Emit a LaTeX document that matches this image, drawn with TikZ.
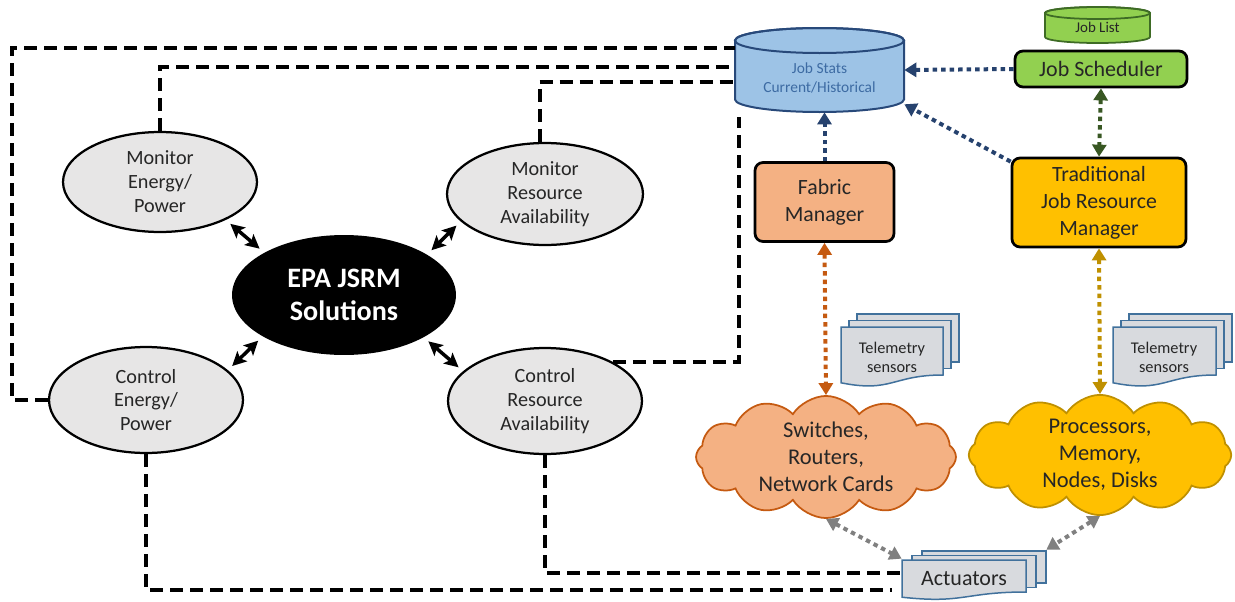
\documentclass[tikz,border=0pt]{standalone}
\usepackage{fontspec}
\setmainfont{Carlito}
\usetikzlibrary{arrows.meta,shapes.geometric,shapes.symbols}

\definecolor{ovalgray}{HTML}{E7E6E6}
\definecolor{statsblue}{HTML}{9DC3E6}
\definecolor{statsedge}{HTML}{28497A}
\definecolor{statstext}{HTML}{3D6BA3}
\definecolor{schedgreen}{HTML}{92D050}
\definecolor{listedge}{HTML}{3E6B25}
\definecolor{fabricorange}{HTML}{F4B183}
\definecolor{tradgold}{HTML}{FFC000}
\definecolor{rustline}{HTML}{C55A11}
\definecolor{ochreline}{HTML}{BF9000}
\definecolor{navyline}{HTML}{26426E}
\definecolor{forestline}{HTML}{385723}
\definecolor{sheetgray}{HTML}{D8DADE}
\definecolor{sheetedge}{HTML}{41719C}
\definecolor{arrowgray}{HTML}{808080}

% stacked paper sheets, front one with a wavy bottom edge
% #1,#2 top left of the front sheet, #3 width, #4 height, #5,#6 offset of the sheets behind
\newcommand\sheetstack[6]{%
  \filldraw[sheet] (#1+2*#5,#2-2*#6) rectangle ++(#3,0.8*#4);
  \filldraw[sheet] (#1+#5,#2-#6) rectangle ++(#3,0.8*#4);
  \filldraw[sheet] (#1,#2) -- ++(#3,0) -- ++(0,0.8*#4)
    .. controls (#1+0.5*#3,#2+0.8*#4) and (#1+0.5*#3,#2+1.1*#4) .. (#1,#2+0.93*#4) -- cycle;
}

\tikzset{
  tri/.tip={Triangle[length=2.4mm,width=2.8mm]},
  lnk/.tip={Stealth[length=2.8mm,width=2.8mm,inset=0.6mm]},
}

\begin{document}
\begin{tikzpicture}[x=0.02cm, y=-0.02cm,
    oval/.style={ellipse, draw, line width=0.45mm, fill=ovalgray, inner sep=0pt, align=center,
      text=black!85, font=\fontsize{11.5}{13.6}\selectfont},
    mgrbox/.style={rounded corners=1.6mm, draw, line width=0.55mm, inner sep=0pt, align=center,
      text=black!85, font=\fontsize{12.4}{15.3}\selectfont},
    puff/.style={cloud, cloud puffs=12, cloud puff arc=115, cloud ignores aspect, inner sep=0pt,
      line width=0.35mm, align=center, text=black!85, font=\fontsize{12.8}{15.3}\selectfont},
    sheet/.style={fill=sheetgray, draw=sheetedge, line width=0.3mm},
    sheettext/.style={align=center, text=black!85, font=\fontsize{9.3}{10.8}\selectfont},
    ctrl/.style={line width=0.8mm, dash pattern=on 2.6mm off 1.4mm},
    link/.style={lnk-lnk, line width=0.7mm, shorten <=1.2mm, shorten >=1.2mm},
    feed/.style={line width=0.8mm, dash pattern=on 0.9mm off 0.8mm},
]
\useasboundingbox (0,0) rectangle (1235,602);

% --- Solution and its four functions ---
\node[oval, minimum width=3.88cm, minimum height=2.0cm] (mep) at (160,182) {Monitor\\Energy/\\Power};
\node[oval, minimum width=3.92cm, minimum height=2.04cm] (mra) at (545,194) {Monitor\\Resource\\Availability};
\node[ellipse, fill=black, inner sep=0pt, minimum width=4.48cm, minimum height=2.4cm, align=center,
  text=white, font=\fontsize{16}{18.7}\selectfont\bfseries] (epa) at (344,295) {EPA JSRM\\Solutions};
\node[oval, minimum width=3.88cm, minimum height=2.12cm] (cep) at (146,400) {Control\\Energy/\\Power};
\node[oval, minimum width=3.88cm, minimum height=2.12cm] (cra) at (545,401) {Control\\Resource\\Availability};

\draw[link] (mep.-30) -- (epa.152);
\draw[link] (mra.198) -- (epa.26);
\draw[link] (cep.20) -- (epa.207);
\draw[link] (cra.160) -- (epa.-28);

% --- Job stats store and job list ---
\filldraw[fill=statsblue, draw=statsedge, line width=0.4mm] (735,40.5) -- (735,99.5)
  arc[start angle=180, end angle=0, x radius=84.5, y radius=12.5] -- (904,40.5)
  arc[start angle=0, end angle=-180, x radius=84.5, y radius=12.5] -- cycle;
\draw[statsedge, line width=0.4mm] (819.5,40.5) ellipse [x radius=84.5, y radius=12.5];
\node[minimum width=3.38cm, minimum height=1.68cm, inner sep=0pt] (js) at (819.5,70) {};
\node[align=center, text=statstext, font=\fontsize{8.8}{10.8}\selectfont] (jsl) at (819.5,78) {Job Stats\\Current/Historical};

\filldraw[fill=schedgreen, draw=listedge, line width=0.35mm] (1045,13) -- (1045,37)
  arc[start angle=180, end angle=0, x radius=52.5, y radius=6] -- (1150,13)
  arc[start angle=0, end angle=-180, x radius=52.5, y radius=6] -- cycle;
\draw[listedge, line width=0.35mm] (1097.5,13) ellipse [x radius=52.5, y radius=6];
\node[text=black!85, font=\fontsize{8.5}{10}\selectfont] (jl) at (1097.5,27) {Job List};

% --- Managers ---
\node[mgrbox, fill=schedgreen, minimum width=3.44cm, minimum height=0.72cm,
  font=\fontsize{12.5}{15}\selectfont] (jsch) at (1101,69) {Job Scheduler};
\node[mgrbox, fill=fabricorange, minimum width=2.78cm, minimum height=1.58cm] (fm) at (824.5,202) {Fabric\\Manager};
\node[mgrbox, fill=tradgold, minimum width=3.48cm, minimum height=1.78cm] (tjrm) at (1099,202.5) {Traditional\\Job Resource\\Manager};

% --- Hardware ---
\node[puff, fill=fabricorange, draw=rustline, minimum width=5.2cm, minimum height=2.1cm] (swc) at (826,457)
  {Switches,\\Routers,\\Network Cards};
\node[puff, fill=tradgold, draw=ochreline, minimum width=5.25cm, minimum height=2.1cm] (prc) at (1100,455)
  {Processors,\\Memory,\\Nodes, Disks};

\sheetstack{841}{327}{102}{60}{8}{6.5}
\node[sheettext] (tel1) at (892,357) {Telemetry\\sensors};
\sheetstack{1113}{327}{103}{60}{8}{6.5}
\node[sheettext] (tel2) at (1164,357) {Telemetry\\sensors};
\sheetstack{902}{560}{124}{40}{10}{4.5}
\node[sheettext, minimum width=2.48cm, minimum height=0.8cm, inner sep=0pt,
  font=\fontsize{12.5}{15}\selectfont] (act) at (964,579) {Actuators};

% --- Control paths ---
\draw[ctrl] (cep.west) -| (12,48) -- (js.west |- 0,48);
\draw[ctrl] (mep.north) |- (js.west |- 0,67);
\draw[ctrl] (mra.96) |- (js.west |- 0,82);
\draw[ctrl] (cra.30) -| ([shift={(4,5)}]js.south west);
\draw[ctrl] (cep.south) |- ([shift={(-10,11)}]act.west);
\draw[ctrl] (cra.south) |- ([shift={(0,-6)}]act.west);

% --- Data flows ---
\draw[feed, navyline, -tri] (jsch.west) -- (js.east);
\draw[feed, navyline, -tri] (fm.north) -- (fm.north |- js.south);
\draw[feed, navyline, -tri] ([yshift=-1mm]tjrm.north west) -- (js.-22);
\draw[feed, forestline, tri-tri] (jsch.south) -- (tjrm.north);
\draw[feed, rustline, tri-tri] (fm.south) -- (swc.north);
\draw[feed, ochreline, tri-tri] (tjrm.south) -- (prc.north);
\draw[feed, arrowgray, tri-tri] (swc.south) -- (act.north west);
\draw[feed, arrowgray, tri-tri] (prc.south) -- ([shift={(20,-9)}]act.north east);
\end{tikzpicture}
\end{document}
